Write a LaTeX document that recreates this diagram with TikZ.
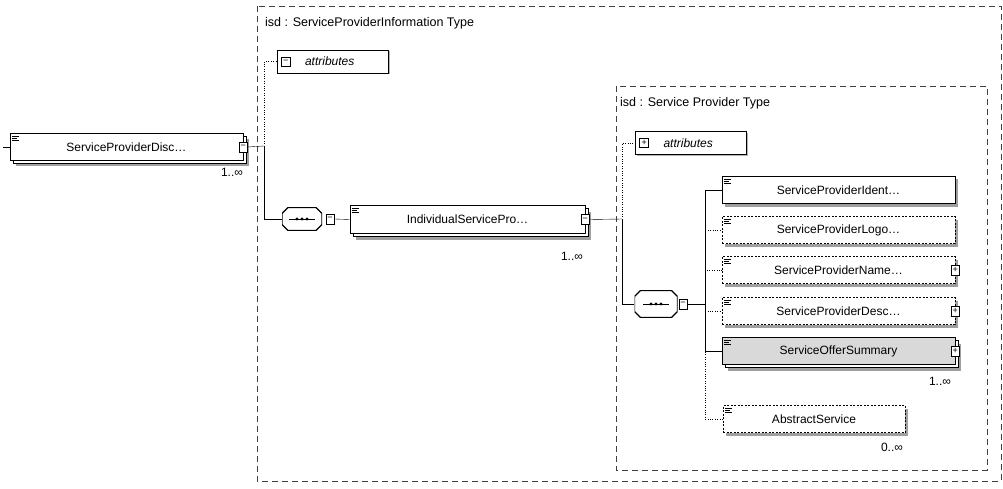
\documentclass[tikz,border=0pt]{standalone}
\usepackage{fontspec}
\setmainfont{Liberation Sans}
\usetikzlibrary{shadows,positioning}

\tikzset{
  elem/.style={draw, fill=white, line width=0.6pt, minimum height=27pt, inner sep=0pt,
    font=\fontsize{12}{14}\selectfont,
    general shadow={shadow xshift=3pt, shadow yshift=-3pt, fill=gray!75, draw=none},
    path picture={\draw[solid, line width=0.5pt]
      ([xshift=2pt,yshift=-2.5pt]path picture bounding box.north west) -- ++(7pt,0pt)
      ([xshift=2pt,yshift=-4.5pt]path picture bounding box.north west) -- ++(5pt,0pt)
      ([xshift=2pt,yshift=-6.5pt]path picture bounding box.north west) -- ++(7pt,0pt);}},
  optelem/.style={elem, dash pattern=on 2pt off 1.5pt},
  multi/.style={general shadow={shadow xshift=6pt, shadow yshift=-6pt, fill=gray!75, draw=none},
    general shadow={shadow xshift=3pt, shadow yshift=-3pt, fill=white, draw}},
  attrbox/.style={draw, fill=white, line width=0.6pt, minimum height=23pt, text width=111pt,
    inner sep=0pt, align=left, font=\itshape\fontsize{12}{14}\selectfont,
    general shadow={shadow xshift=1.5pt, shadow yshift=-1.5pt, fill=gray!60, draw=none}},
  icon/.style={draw, fill=white, line width=0.5pt, minimum width=8pt, minimum height=10pt,
    inner sep=0pt, font=\fontsize{9}{9}\selectfont},
  seq/.style={fill=white, minimum width=40pt, minimum height=23pt, inner sep=0pt,
    path picture={
      \draw[black, line width=1.3pt]
        ([xshift=6pt]path picture bounding box.north west) -- ([xshift=-6pt]path picture bounding box.north east)
        -- ([yshift=-6pt]path picture bounding box.north east) -- ([yshift=6pt]path picture bounding box.south east)
        -- ([xshift=-6pt]path picture bounding box.south east) -- ([xshift=6pt]path picture bounding box.south west)
        -- ([yshift=6pt]path picture bounding box.south west) -- ([yshift=-6pt]path picture bounding box.north west)
        -- cycle;
      \draw[black, line width=0.6pt]
        ([xshift=-13pt]path picture bounding box.center) -- ([xshift=13pt]path picture bounding box.center);
      \foreach \dx in {-5,0,5} \fill[black] ([xshift=\dx pt]path picture bounding box.center) circle (1.7pt);}},
  occ/.style={font=\fontsize{12}{14}\selectfont, inner sep=0pt},
  grp/.style={draw=gray!50!black, line width=0.6pt, dash pattern=on 6pt off 4pt},
  grptitle/.style={anchor=west, font=\fontsize{12.5}{14}\selectfont, inner sep=0pt}
}

\begin{document}
\begin{tikzpicture}[x=1pt, y=-1pt]
    \useasboundingbox (0,0) rectangle (1003,489);

    % Type boxes
    \draw[grp] (257,6) rectangle (1001,481);
    \node[grptitle] (infotitle) at (265,23) {isd : ServiceProviderInformation Type};
    \draw[grp] (616,86) rectangle (987,470);
    \node[grptitle] (provtitle) at (620,103) {isd : Service Provider Type};

    % Root element
    \coordinate (in) at (3,147);
    \node[elem, multi, minimum width=233pt] (spdisc) at (126.5,147) {ServiceProviderDisc\ldots};
    \node[icon] (spdisc-ic) at (spdisc.east) {\textminus};
    \node[occ] (spdisc-n) at (232,172) {1..∞};

    % ServiceProviderInformation Type
    \coordinate (ja) at (264,146);
    \node[attrbox] (attra) at (332.5,61.5) {\hspace*{28pt}attributes};
    \node[icon, minimum width=9pt, minimum height=9pt] (attra-ic) at ([xshift=9pt]attra.west) {\textminus};
    \node[seq] (seqa) at (302,219) {};
    \node[icon] (seqa-ic) at (330,219) {\textminus};
    \node[elem, multi, minimum width=235pt, minimum height=28pt] (isp) at (467.5,219.5) {IndividualServicePro\ldots};
    \node[icon] (isp-ic) at (isp.east) {\textminus};
    \node[occ] (isp-n) at (572,256) {1..∞};

    % Service Provider Type
    \coordinate (jb) at (622,219);
    \node[attrbox] (attrb) at (691,143) {\hspace*{28pt}attributes};
    \node[icon, minimum width=9pt, minimum height=9pt] (attrb-ic) at ([xshift=9pt]attrb.west) {+};
    \node[seq, minimum width=43pt, minimum height=27pt] (seqb) at (656,304) {};
    \node[icon] (seqb-ic) at (683,304) {\textminus};
    \coordinate (jc) at (705,304);

    % Children
    \node[elem, minimum width=233pt] (spident) at (838.5,190) {ServiceProviderIdent\ldots};
    \node[optelem, minimum width=233pt] (splogo) at (838.5,230) {ServiceProviderLogo\ldots};
    \node[optelem, minimum width=233pt] (spname) at (838.5,270) {ServiceProviderName\ldots};
    \node[icon] (spname-ic) at (spname.east) {+};
    \node[optelem, minimum width=233pt] (spdesc) at (838.5,311) {ServiceProviderDesc\ldots};
    \node[icon] (spdesc-ic) at (spdesc.east) {+};
    \node[elem, multi, fill=gray!30, minimum width=233pt] (offer) at (838.5,351) {ServiceOfferSummary};
    \node[icon] (offer-ic) at (offer.east) {+};
    \node[occ] (offer-n) at (940,381) {1..∞};
    \node[optelem, minimum width=182pt] (abstract) at (814,419) {AbstractService};
    \node[occ] (abstract-n) at (892,447) {0..∞};

    % Connectors
    \draw (in) -- (spdisc.west);
    \draw (spdisc-ic.east) -- (ja);
    \draw[dotted] (ja) |- (attra.west);
    \draw (ja) |- (seqa.west);
    \draw (seqa-ic.east) -- (isp.west);
    \draw (isp-ic.east) -- (jb);
    \draw[dotted] (jb) |- (attrb.west);
    \draw (jb) |- (seqb.west);
    \draw (seqb-ic.east) -- (jc);
    \draw (jc) |- (spident.west);
    \draw[dotted] (jc) |- (splogo.west);
    \draw[dotted] (jc) |- (spname.west);
    \draw[dotted] (jc) |- (spdesc.west);
    \draw (jc) |- (offer.west);
    \draw[dotted] (jc) |- (abstract.west);

\end{tikzpicture}
\end{document}
